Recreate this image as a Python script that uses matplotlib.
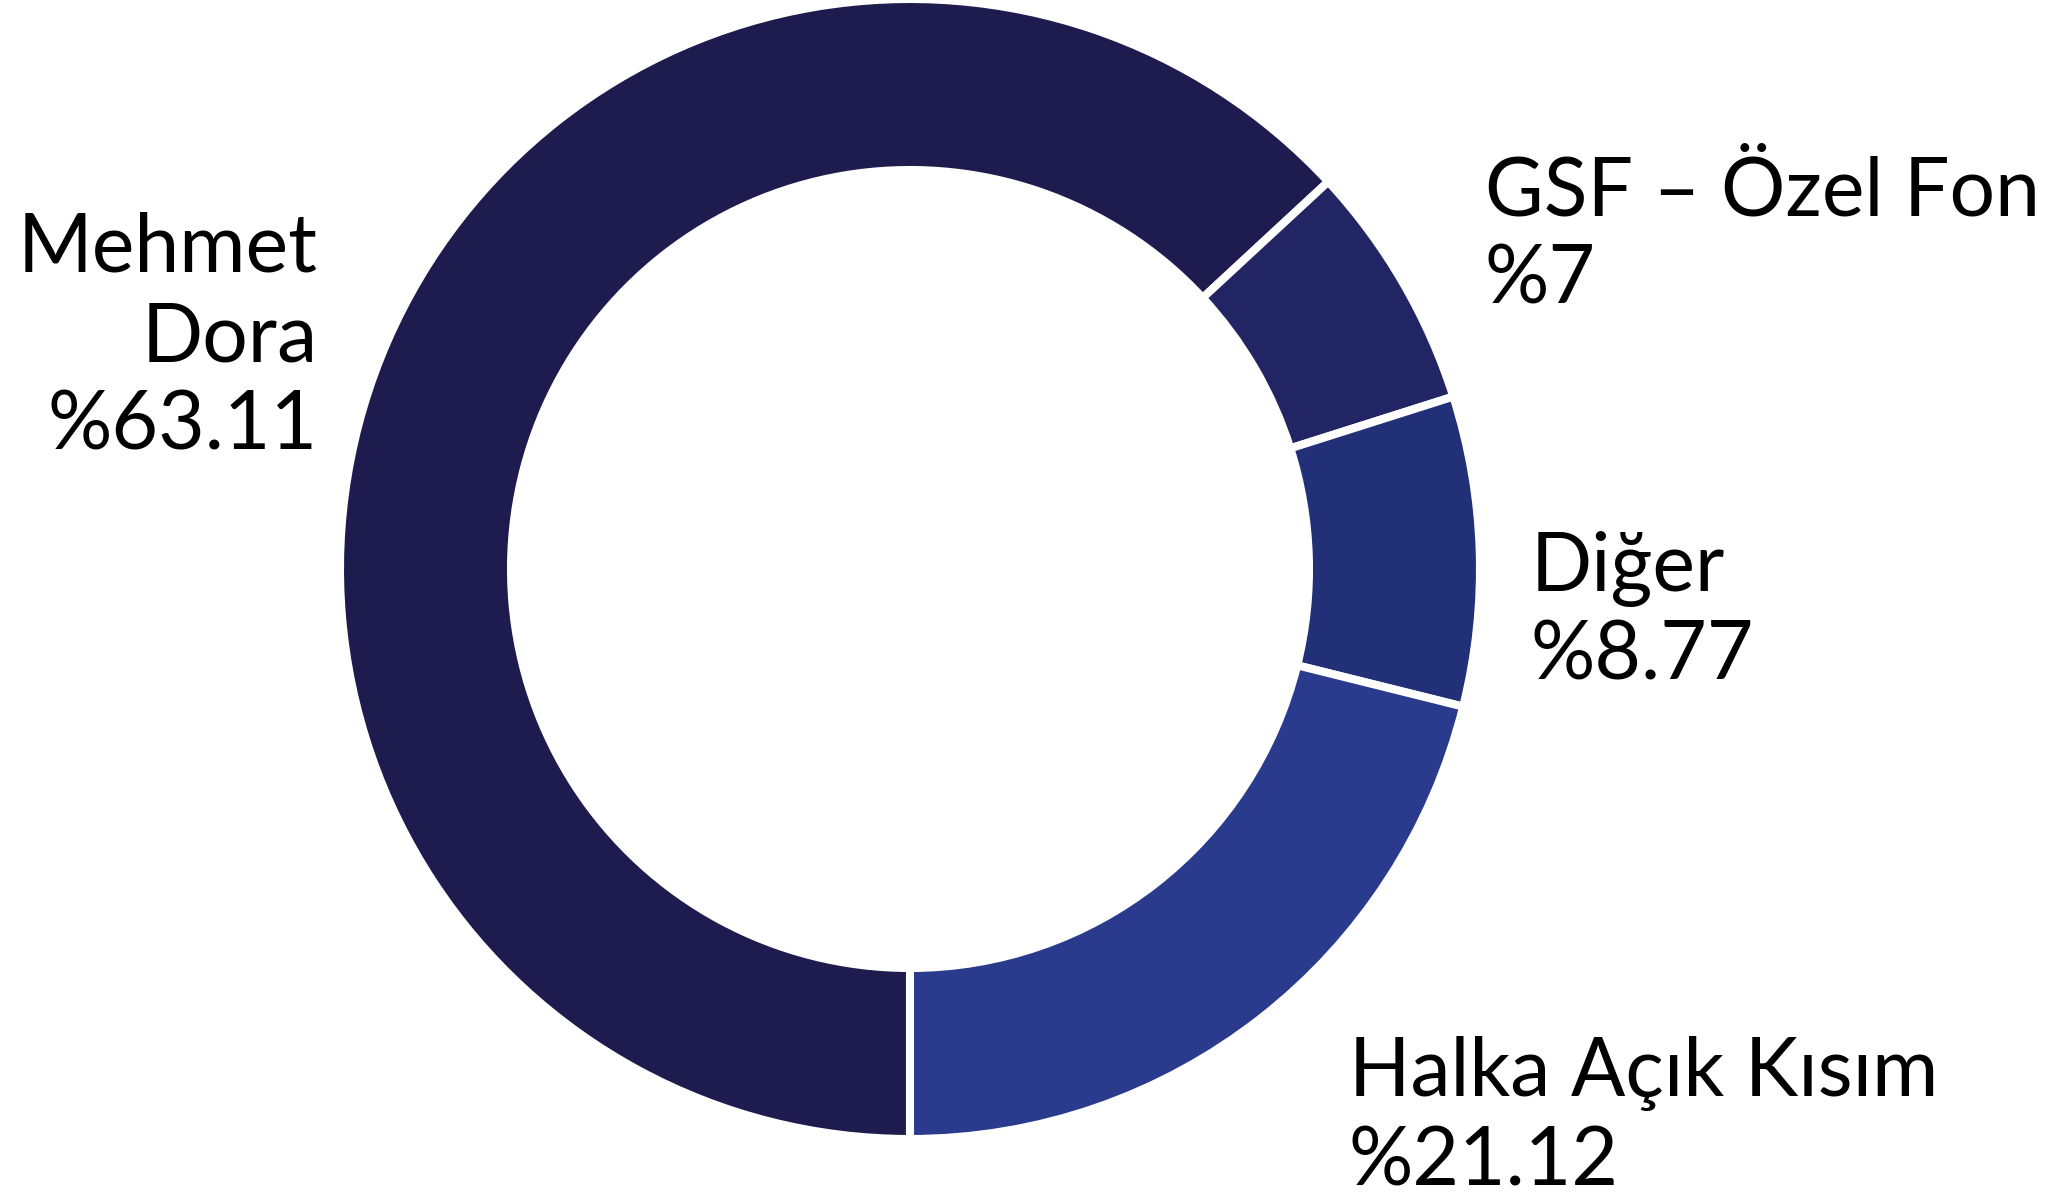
import matplotlib
matplotlib.use("Agg")
import matplotlib.pyplot as plt

names = [["Mehmet", "Dora"], ["GSF – Özel Fon"], ["Diğer"], ["Halka Açık Kısım"]]
shares = [63.11, 7, 8.77, 21.12]
share_labels = ["%63.11", "%7", "%8.77", "%21.12"]
colors = ["#1e1b4e", "#222563", "#223077", "#2a3a8c"]

W, H = 2064, 1197
fig = plt.figure(figsize=(W / 100, H / 100), dpi=100)
ax = fig.add_axes([0, 0, 1, 1])

ax.pie(shares, colors=colors, radius=570, center=(910, H - 569),
       startangle=270, counterclock=False,
       wedgeprops=dict(width=171, edgecolor="white", linewidth=5.8))

ax.set_xlim(0, W)
ax.set_ylim(0, H)
ax.set_aspect("equal")
ax.axis("off")

font = dict(family="Lato", fontsize=58, color="black", va="baseline")
step = 89
# label anchors (x, baseline y of last line, alignment)
anchors = [(318, 450, "right"), (1485, 304, "left"), (1531, 680, "left"), (1349, 1185, "left")]
for name, lab, (x, y, ha) in zip(names, share_labels, anchors):
    lines = name + [lab]
    for i, line in enumerate(lines):
        yy = y - step * (len(lines) - 1 - i)
        ax.text(x, H - yy, line, ha=ha, **font)

fig.savefig("out.png", dpi=100)
